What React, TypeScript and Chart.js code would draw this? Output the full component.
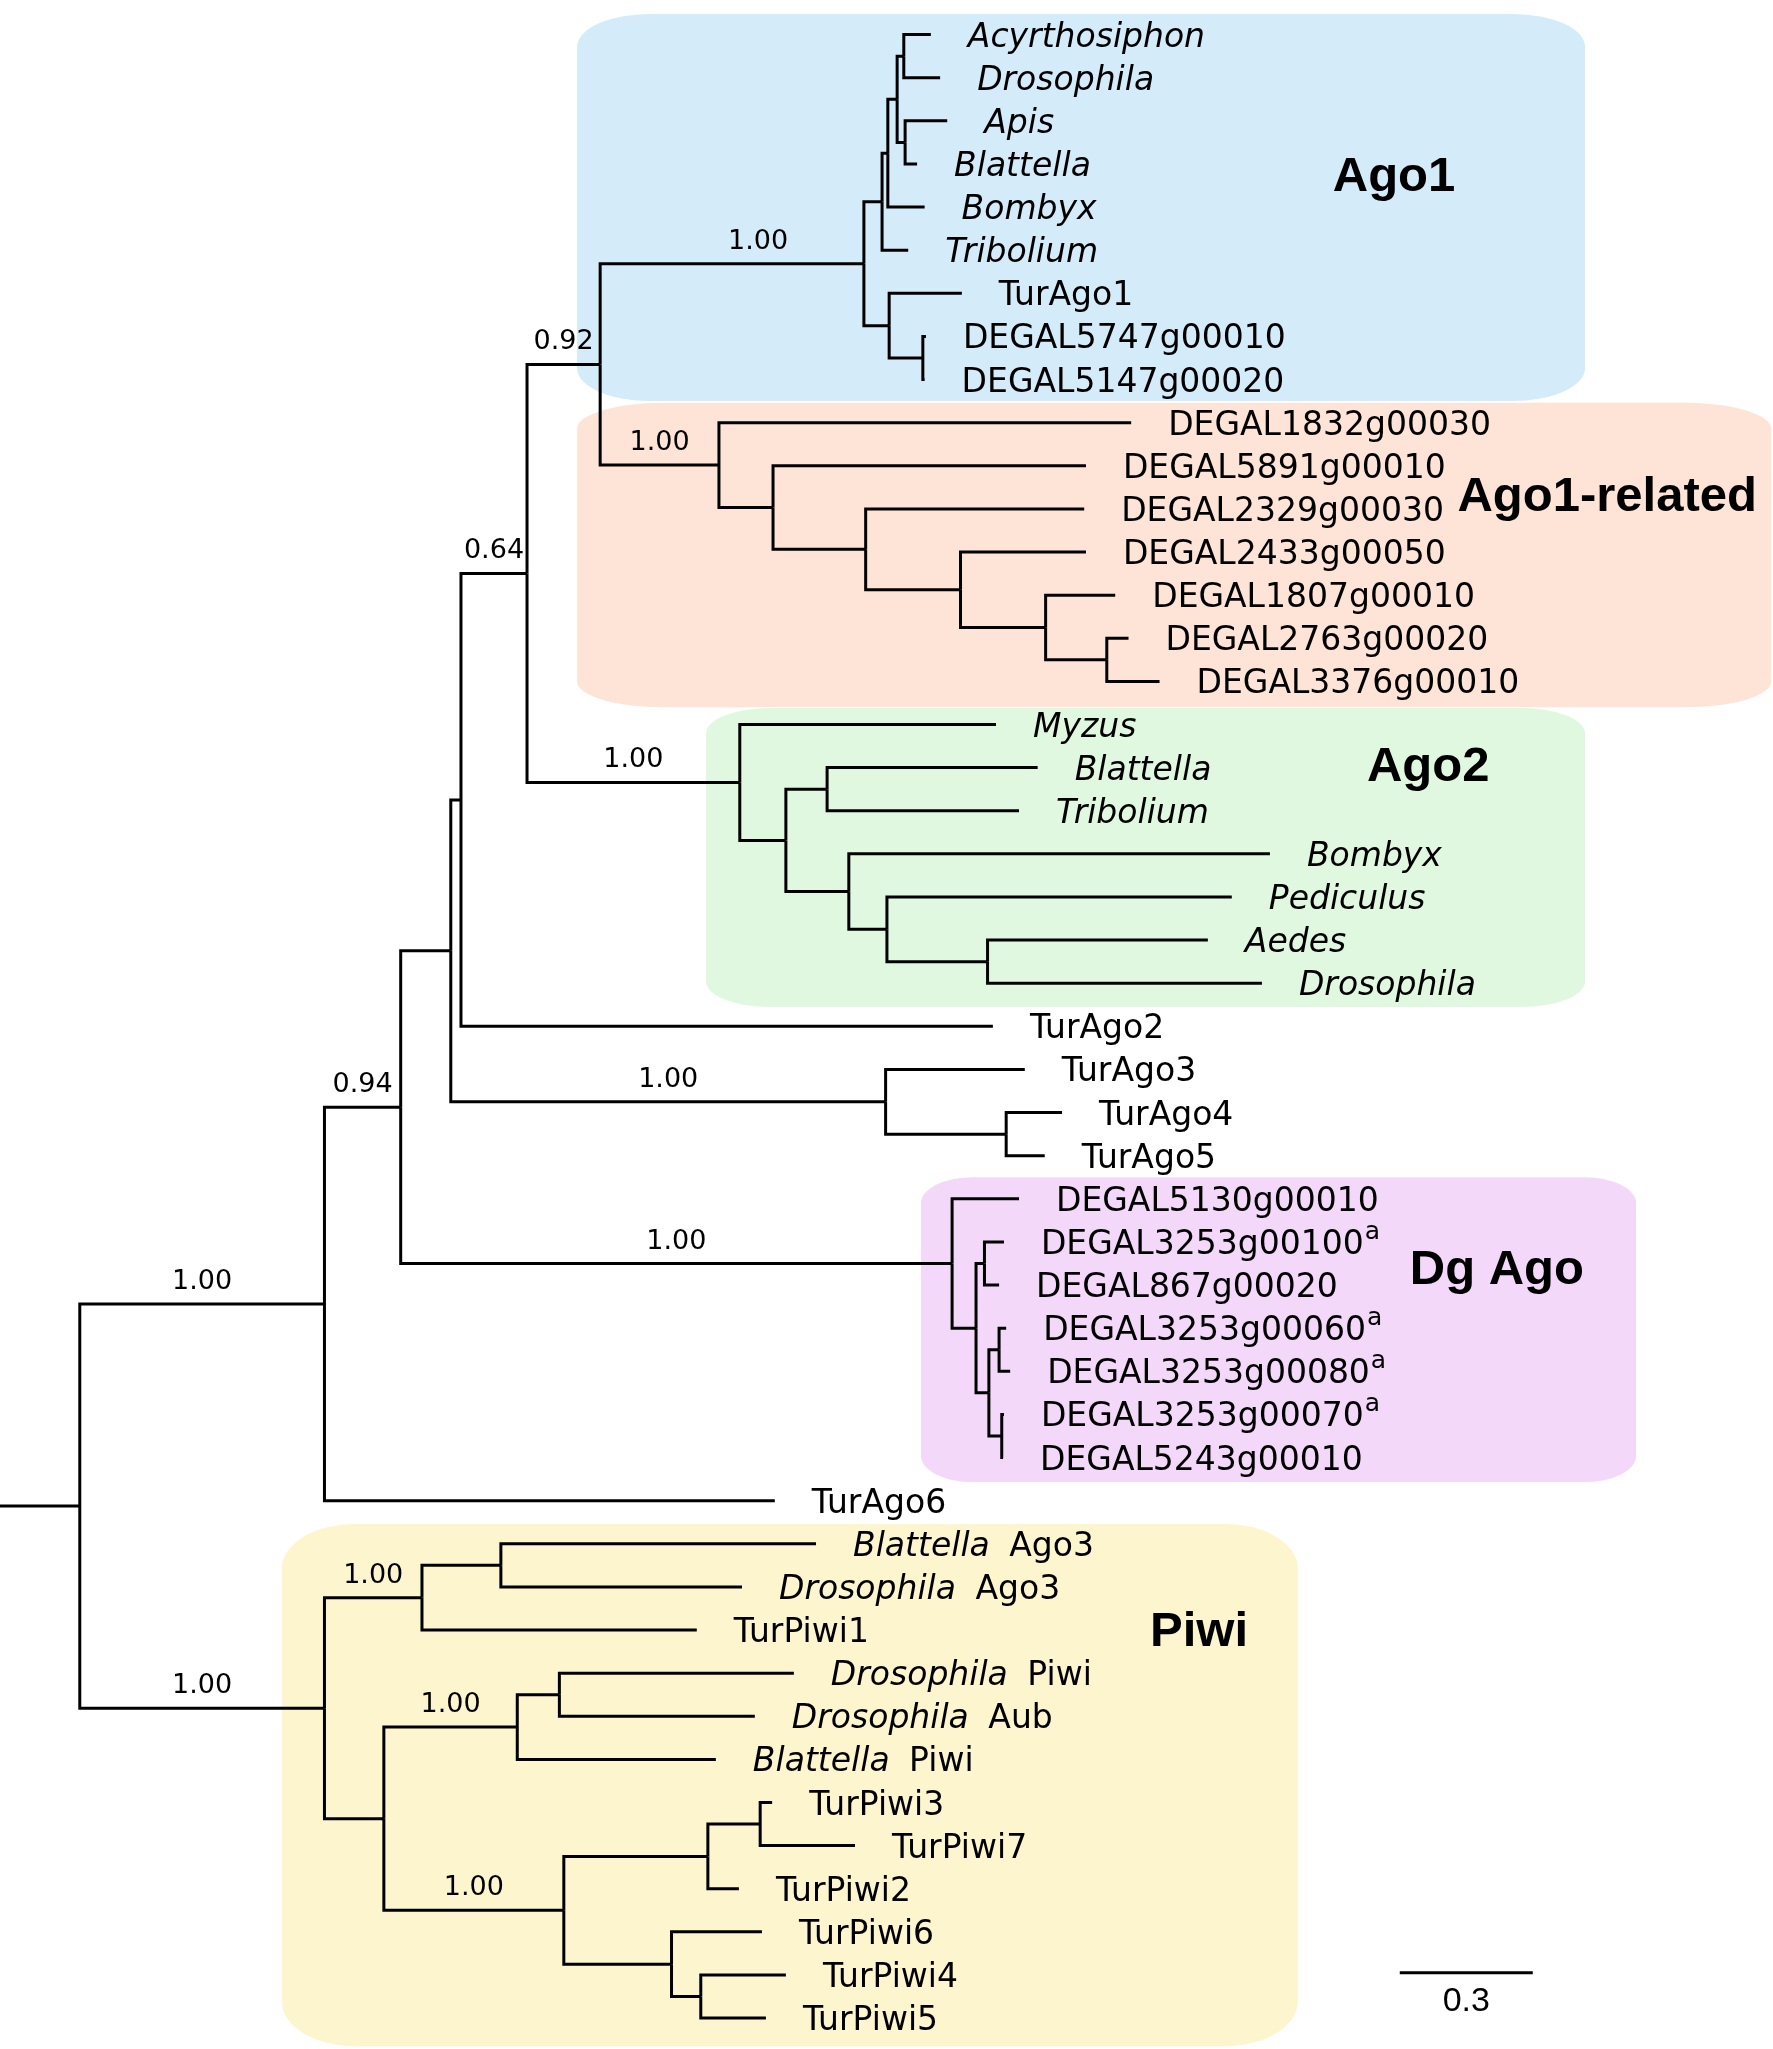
import React, { useEffect, useRef } from 'react';
import { Chart, registerables } from 'chart.js';

Chart.register(...registerables);

// ---------------- DATA ----------------
// Internal nodes: id, parent id, cumulative depth (substitutions/site from the root stub)
const nodeIds = ['R0','NA','NB','NC','N064','N092','NA12','A1','I1','I2','I3','I4','I5','T1','PR',
  'NR','R2','R3','R4','R5','R6','G1','G2','G3','G4','G5','G6','T3','T45',
  'D1','D2','D3','D4','D5','D6','P0','P1','P2','P3','P4','P5','P6','P7','P8','P9','P10'];
const nodeParents = ['', 'R0','NA','NB','NC','N064','N092','NA12','A1','I1','I2','I3','I3','A1','T1',
  'NA12','NR','R2','R3','R4','R5','N092','G1','G2','G2','G4','G5','NC','T3',
  'NB','D1','D2','D2','D4','D4','R0','P0','P1','P0','P3','P4','P3','P6','P7','P6','P9'];
const nodeDepths = [0.180,0.732,0.904,1.017,1.040,1.189,1.354,1.949,1.990,2.003,2.024,2.039,2.042,2.006,2.082,
  1.622,1.744,1.953,2.167,2.359,2.497,1.669,1.773,1.866,1.915,2.001,2.228,1.998,2.270,
  2.148,2.202,2.221,2.231,2.254,2.260,0.732,0.952,1.130,0.866,1.167,1.262,1.272,1.597,1.715,1.515,1.581];

// Leaves (top to bottom)
const leafNames = ['Acyrthosiphon','Drosophila','Apis','Blattella','Bombyx','Tribolium','TurAgo1',
  'DEGAL5747g00010','DEGAL5147g00020','DEGAL1832g00030','DEGAL5891g00010','DEGAL2329g00030',
  'DEGAL2433g00050','DEGAL1807g00010','DEGAL2763g00020','DEGAL3376g00010','Myzus','Blattella',
  'Tribolium','Bombyx','Pediculus','Aedes','Drosophila','TurAgo2','TurAgo3','TurAgo4','TurAgo5',
  'DEGAL5130g00010','DEGAL3253g00100','DEGAL867g00020','DEGAL3253g00060','DEGAL3253g00080',
  'DEGAL3253g00070','DEGAL5243g00010','TurAgo6','Blattella Ago3','Drosophila Ago3','TurPiwi1',
  'Drosophila Piwi','Drosophila Aub','Blattella Piwi','TurPiwi3','TurPiwi7','TurPiwi2','TurPiwi6',
  'TurPiwi4','TurPiwi5'];
const leafParents = ['I4','I4','I5','I5','I2','I1','T1','PR','PR','NR','R2','R3','R4','R5','R6','R6',
  'G1','G3','G3','G4','G5','G6','G6','N064','T3','T45','T45','D1','D3','D3','D5','D5','D6','D6','NA',
  'P2','P2','P1','P5','P5','P4','P8','P8','P7','P9','P10','P10'];
const leafDepths = [2.100,2.121,2.137,2.069,2.086,2.049,2.170,2.089,2.086,2.552,2.450,2.446,2.450,2.516,
  2.546,2.616,2.247,2.341,2.299,2.865,2.779,2.725,2.847,2.240,2.312,2.396,2.357,2.299,2.265,2.254,
  2.270,2.279,2.265,2.263,1.748,1.841,1.674,1.572,1.791,1.703,1.615,1.742,1.929,1.667,1.719,1.773,1.728];
// i = italic, r = regular, m = italic genus + regular gene name
const leafStyles = ['i','i','i','i','i','i','r','r','r','r','r','r','r','r','r','r','i','i','i','i','i','i','i',
  'r','r','r','r','r','r','r','r','r','r','r','r','m','m','r','m','m','m','r','r','r','r','r','r'];
const leafSuperscripts = ['','','','','','','','','','','','','','','','','','','','','','','','','','','',
  '','a','','a','a','a','','','','','','','','','','','','','',''];

// Posterior support values on branches leading to nodes
const supportNodes = ['NA','P0','NB','N092','NA12','A1','NR','G1','T3','D1','P1','P4','P6'];
const supportValues = ['1.00','1.00','0.94','0.64','0.92','1.00','1.00','1.00','1.00','1.00','1.00','1.00','1.00'];

// Clades
const cladeNames = ['Ago1','Ago1-related','Ago2','Dg Ago','Piwi'];
const cladeFirstLeaf = [0, 9, 16, 27, 35];
const cladeLastLeaf = [8, 15, 22, 33, 46];

const scaleBarValue = 0.3;

// ---------------- STYLE / LAYOUT ----------------
const W = 1773;
const H = 2049;
const X_MAX = 4.0;
const Y_MIN = -0.802;
const Y_MAX = Y_MIN + H / 43.12;

const cladeStyle = [
  { color: '#D4EBFA', x0: 1.302, x1: 3.576, padTop: 0.48, padBot: 0.50, lx: 3.145, ly: 3.23 },
  { color: '#FDE4D6', x0: 1.302, x1: 3.996, padTop: 0.46, padBot: 0.60, lx: 3.626, ly: 10.65 },
  { color: '#E0F8E0', x0: 1.593, x1: 3.576, padTop: 0.38, padBot: 0.55, lx: 3.222, ly: 16.92 },
  { color: '#F3D8FA', x0: 2.078, x1: 3.691, padTop: 0.50, padBot: 0.57, lx: 3.377, ly: 28.58 },
  { color: '#FDF5CE', x0: 0.636, x1: 2.928, padTop: 0.46, padBot: 0.65, lx: 2.705, ly: 36.98 },
];
const supportNudge: Record<string, number> = { A1: 26 };
const LEAF_FONT = "33px 'DejaVu Sans'";
const LEAF_FONT_I = "italic 33px 'DejaVu Sans'";
const SUP_FONT = "25px 'DejaVu Sans'";
const SUPPORT_FONT = "27px 'DejaVu Sans'";
const CLADE_FONT = "bold 49px 'Liberation Sans'";
const BAR_FONT = "34px 'Liberation Sans'";

// ---------------- TREE BUILD ----------------
function buildTree() {
  const xOf: Record<string, number> = {};
  const yOf: Record<string, number> = {};
  const parentOf: Record<string, string> = {};
  const children: Record<string, string[]> = {};
  nodeIds.forEach((id, i) => { xOf[id] = nodeDepths[i]; parentOf[id] = nodeParents[i]; children[id] = []; });
  nodeIds.forEach((id, i) => { if (nodeParents[i]) children[nodeParents[i]].push(id); });
  leafNames.forEach((_, i) => {
    const id = 'L' + i;
    xOf[id] = leafDepths[i];
    yOf[id] = i;
    parentOf[id] = leafParents[i];
    children[leafParents[i]].push(id);
  });
  const getY = (id: string): number => {
    if (id in yOf) return yOf[id];
    const ys = children[id].map(getY);
    const y = (Math.min(...ys) + Math.max(...ys)) / 2;
    yOf[id] = y;
    return y;
  };
  nodeIds.forEach(getY);
  const branches: { x: number; y: number }[][] = [];
  const all = [...nodeIds, ...leafNames.map((_, i) => 'L' + i)];
  all.forEach((id) => {
    const p = parentOf[id];
    if (!p) {
      branches.push([{ x: 0, y: yOf[id] }, { x: xOf[id], y: yOf[id] }]);
    } else {
      branches.push([
        { x: xOf[p], y: yOf[p] },
        { x: xOf[p], y: yOf[id] },
        { x: xOf[id], y: yOf[id] },
      ]);
    }
  });
  return { xOf, yOf, parentOf, branches };
}

function ellRect(ctx: CanvasRenderingContext2D, x0: number, y0: number, x1: number, y1: number, rx: number, ry: number) {
  ctx.beginPath();
  ctx.moveTo(x0 + rx, y0);
  ctx.lineTo(x1 - rx, y0);
  ctx.ellipse(x1 - rx, y0 + ry, rx, ry, 0, -Math.PI / 2, 0);
  ctx.lineTo(x1, y1 - ry);
  ctx.ellipse(x1 - rx, y1 - ry, rx, ry, 0, 0, Math.PI / 2);
  ctx.lineTo(x0 + rx, y1);
  ctx.ellipse(x0 + rx, y1 - ry, rx, ry, 0, Math.PI / 2, Math.PI);
  ctx.lineTo(x0, y0 + ry);
  ctx.ellipse(x0 + rx, y0 + ry, rx, ry, 0, Math.PI, Math.PI * 1.5);
  ctx.closePath();
  ctx.fill();
}

export default function App() {
  const ref = useRef<HTMLCanvasElement>(null);

  useEffect(() => {
    document.body.style.margin = '0';
    document.body.style.overflow = 'hidden';
    const tree = buildTree();

    const decor = {
      id: 'treeDecor',
      beforeDatasetsDraw(chart: any) {
        const ctx: CanvasRenderingContext2D = chart.ctx;
        const xs = chart.scales.x;
        const ys = chart.scales.y;
        ctx.save();
        cladeNames.forEach((_, i) => {
          const s = cladeStyle[i];
          const x0 = xs.getPixelForValue(s.x0);
          const x1 = xs.getPixelForValue(s.x1);
          const y0 = ys.getPixelForValue(cladeFirstLeaf[i] - s.padTop);
          const y1 = ys.getPixelForValue(cladeLastLeaf[i] + s.padBot);
          ctx.fillStyle = s.color;
          ellRect(ctx, x0, y0, x1, y1, 0.072 * (x1 - x0), 0.085 * (y1 - y0));
        });
        ctx.restore();
      },
      afterDatasetsDraw(chart: any) {
        const ctx: CanvasRenderingContext2D = chart.ctx;
        const xs = chart.scales.x;
        const ys = chart.scales.y;
        ctx.save();
        ctx.fillStyle = '#000';
        ctx.textBaseline = 'alphabetic';

        // leaf labels
        leafNames.forEach((name, i) => {
          const px = xs.getPixelForValue(leafDepths[i]) + 37;
          const py = ys.getPixelForValue(i) + 12;
          let x = px;
          ctx.textAlign = 'left';
          const st = leafStyles[i];
          if (st === 'm') {
            const sp = name.indexOf(' ');
            const genus = name.slice(0, sp);
            const rest = name.slice(sp + 1);
            ctx.font = LEAF_FONT_I;
            ctx.fillText(genus, x, py);
            x += ctx.measureText(genus).width;
            ctx.font = LEAF_FONT;
            x += ctx.measureText(' ').width + 9;
            ctx.fillText(rest, x, py);
            x += ctx.measureText(rest).width;
          } else {
            ctx.font = st === 'i' ? LEAF_FONT_I : LEAF_FONT;
            ctx.fillText(name, x, py);
            x += ctx.measureText(name).width;
          }
          if (leafSuperscripts[i]) {
            ctx.font = SUP_FONT;
            ctx.fillText(leafSuperscripts[i], x + 1, py - 15);
          }
        });

        // support values
        ctx.font = SUPPORT_FONT;
        ctx.textAlign = 'center';
        supportNodes.forEach((id, i) => {
          const p = tree.parentOf[id];
          const xa = xs.getPixelForValue(tree.xOf[p]);
          const xb = xs.getPixelForValue(tree.xOf[id]);
          const y = ys.getPixelForValue(tree.yOf[id]);
          ctx.fillText(supportValues[i], (xa + xb) / 2 + (supportNudge[id] || 0), y - 15);
        });

        // clade names
        ctx.font = CLADE_FONT;
        cladeNames.forEach((name, i) => {
          const s = cladeStyle[i];
          ctx.fillText(name, xs.getPixelForValue(s.lx), ys.getPixelForValue(s.ly) + 17);
        });

        // scale bar
        const bx0 = xs.getPixelForValue(3.158);
        const bx1 = xs.getPixelForValue(3.158 + scaleBarValue);
        const by = ys.getPixelForValue(44.95);
        ctx.strokeStyle = '#000';
        ctx.lineWidth = 3;
        ctx.beginPath();
        ctx.moveTo(bx0, by);
        ctx.lineTo(bx1, by);
        ctx.stroke();
        ctx.font = BAR_FONT;
        ctx.fillText(String(scaleBarValue), (bx0 + bx1) / 2, by + 38);
        ctx.restore();
      },
    };

    const chart = new Chart(ref.current as HTMLCanvasElement, {
      type: 'scatter',
      data: {
        datasets: tree.branches.map((pts) => ({
          data: pts,
          showLine: true,
          borderColor: '#000',
          borderWidth: 3,
          pointRadius: 0,
          pointHoverRadius: 0,
          tension: 0,
          fill: false,
        })),
      },
      options: {
        animation: false,
        responsive: false,
        devicePixelRatio: 1,
        events: [],
        layout: { padding: 0 },
        plugins: { legend: { display: false }, tooltip: { enabled: false } },
        scales: {
          x: { type: 'linear', min: 0, max: X_MAX, display: false },
          y: { type: 'linear', min: Y_MIN, max: Y_MAX, reverse: true, display: false },
        },
      },
      plugins: [decor],
    } as any);
    return () => chart.destroy();
  }, []);

  return <canvas ref={ref} width={W} height={H} style={{ display: 'block', width: W, height: H }} />;
}
